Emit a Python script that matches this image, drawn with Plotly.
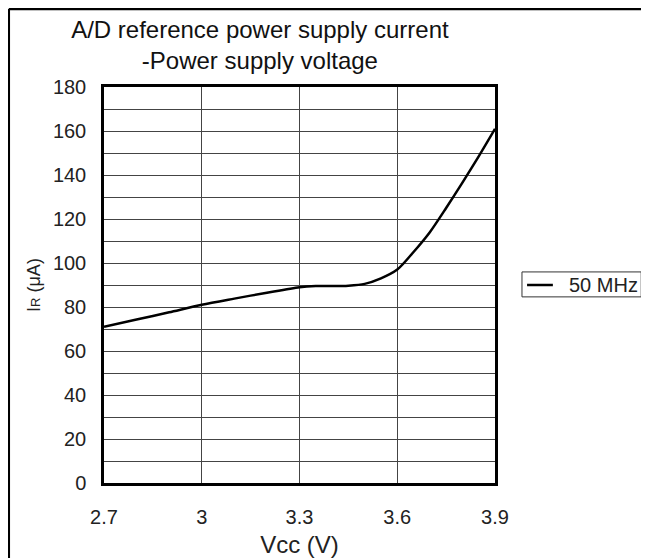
import plotly.graph_objects as go

# supply voltage (V) and A/D reference current (uA) at 50 MHz
vcc = [2.7, 2.8, 2.9, 3.0, 3.1, 3.2, 3.3, 3.35, 3.4, 3.45, 3.5, 3.55, 3.6,
       3.65, 3.7, 3.75, 3.8, 3.85, 3.9]
ir_50mhz = [71, 74.3, 77.6, 81, 83.8, 86.5, 89, 89.5, 89.5, 89.7, 90.5, 93, 97,
            105, 114, 125, 136.5, 148.5, 161]
series_name = "50 MHz"

x_ticks = [2.7, 3.0, 3.3, 3.6, 3.9]
x_labels = ["2.7", "3", "3.3", "3.6", "3.9"]
y_ticks = [0, 20, 40, 60, 80, 100, 120, 140, 160, 180]

FONT = "Liberation Sans, Arial, sans-serif"

fig = go.Figure()
fig.add_trace(
    go.Scatter(
        x=vcc,
        y=ir_50mhz,
        mode="lines",
        name=series_name,
        showlegend=False,
        line=dict(color="black", width=2.5, shape="spline", smoothing=0.8),
    )
)

# boxed legend drawn by hand so it keeps the slim look of the original
fig.add_shape(type="rect", xref="paper", yref="paper",
              x0=1.069, x1=1.374, y0=0.470, y1=0.533,
              line=dict(color="#333333", width=1), fillcolor="white")
fig.add_shape(type="line", xref="paper", yref="paper",
              x0=1.082, x1=1.148, y0=0.5, y1=0.5,
              line=dict(color="black", width=2.5))
fig.add_annotation(text=series_name, xref="paper", yref="paper",
                   x=1.184, y=0.5, xanchor="left", yanchor="middle",
                   showarrow=False, font=dict(size=20, color="#222222"))

# outer frame: top and left edges only
fig.add_shape(type="line", xref="paper", yref="paper",
              x0=-0.2435, x1=1.40, y0=1.197, y1=1.197,
              line=dict(color="black", width=2.5))
fig.add_shape(type="line", xref="paper", yref="paper",
              x0=-0.2435, x1=-0.2435, y0=1.197, y1=-0.2,
              line=dict(color="black", width=2.5))

# page has an 8px body margin, so the figure is sized 8px smaller
fig.update_layout(
    width=641,
    height=550,
    margin=dict(l=96, r=154, t=79, b=75),
    paper_bgcolor="white",
    plot_bgcolor="white",
    font=dict(family=FONT, size=20, color="#222222"),
    title=dict(
        text="A/D reference power supply current<br>-Power supply voltage",
        font=dict(size=24, color="#111111"),
        x=0.393,
        xanchor="center",
        y=0.945,
        yanchor="top",
    ),
    xaxis=dict(
        range=[2.7, 3.9],
        tickvals=x_ticks,
        ticktext=x_labels,
        showgrid=True,
        gridcolor="#444444",
        gridwidth=1,
        showline=True,
        linecolor="black",
        linewidth=2.5,
        mirror=True,
        ticks="",
        ticklabelstandoff=14,
        zeroline=False,
        automargin=False,
        title=dict(text="Vcc (V)", standoff=14),
    ),
    yaxis=dict(
        range=[0, 180],
        tickvals=y_ticks,
        showgrid=True,
        gridcolor="#444444",
        gridwidth=1,
        minor=dict(dtick=10, showgrid=True, gridcolor="#444444", gridwidth=1),
        showline=True,
        linecolor="black",
        linewidth=2.5,
        mirror=True,
        ticks="",
        ticklabelstandoff=11,
        zeroline=False,
        automargin=False,
        title=dict(
            text="I<span style='font-size:13px'>R</span> (μA)",
            font=dict(size=18),
            standoff=8,
        ),
    ),
)

fig.write_html("out.html")
